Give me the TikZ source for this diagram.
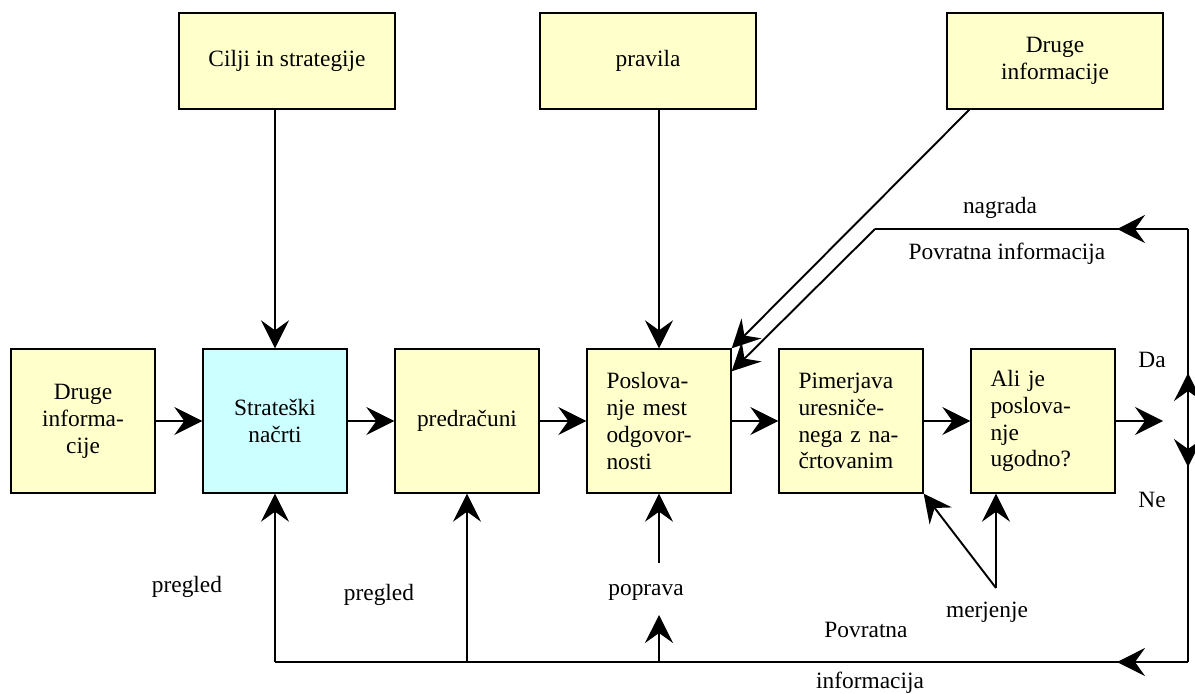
\documentclass[tikz,border=0pt]{standalone}
\usepackage{fontspec}
\setmainfont{Liberation Serif}
\usetikzlibrary{arrows.meta}
\definecolor{boxyellow}{RGB}{255,255,204}
\definecolor{boxcyan}{RGB}{204,255,255}
\tikzset{
	arr/.style={-{Stealth[length=5.6mm, width=5.6mm, inset=2mm]}},
	box/.style={draw, thick, fill=boxyellow, minimum width=2.88cm, minimum height=2.88cm, align=center},
	leftbox/.style={box, text width=2.1cm, align=left, inner xsep=0pt},
	topbox/.style={draw, thick, fill=boxyellow, minimum width=4.32cm, minimum height=1.92cm, align=center},
	lbl/.style={inner sep=0pt}
}
\begin{document}
\begin{tikzpicture}[x=0.02cm, y=-0.02cm, line width=1.1pt, font=\fontsize{13.3}{15.3}\selectfont]
	\useasboundingbox (0, 0) rectangle (1195, 693);
	% top row
	\node[topbox] (cilji) at (287, 61) {Cilji in strategije};
	\node[topbox] (pravila) at (648, 61) {pravila};
	\node[topbox] (drugetop) at (1055, 61) {Druge\\informacije};
	% main row
	\node[box] (druge) at (83, 421) {Druge\\informa-\\cije};
	\node[box, fill=boxcyan] (strat) at (275, 421) {Strateški\\načrti};
	\node[box] (pred) at (467, 421) {predračuni};
	\node[leftbox] (posl) at (659, 421) {Poslova-\\nje mest\\odgovor-\\nosti};
	\node[leftbox] (pim) at (851, 421) {Pimerjava\\uresniče-\\nega z na-\\črtovanim};
	\node[leftbox] (ali) at (1043, 421) {Ali je\\poslova-\\nje\\ugodno?};
	\foreach \a/\b in {druge/strat, strat/pred, pred/posl, posl/pim, pim/ali}
		\draw[arr] (\a) -- (\b);
	% inputs from above
	\draw[arr] (strat.north |- cilji.south) -- (strat.north);
	\draw[arr] (posl.north |- pravila.south) -- (posl.north);
	\draw[arr] ([xshift=0.46cm]drugetop.south west) -- (posl.north east);
	% decision and feedback loop
	\coordinate (split) at (1163, 421);
	\coordinate (mid) at (1188, 421);
	\coordinate (ne) at (1188, 229);
	\coordinate (se) at (1188, 662);
	\coordinate (bend) at (875, 229);
	\draw[arr] (ali) -- (split);
	\draw (mid) -- (ne);
	\draw (mid) -- (se);
	\draw[arr] (mid) -- (1188, 373);
	\draw[arr] (mid) -- (1188, 467);
	\draw (ne) -- (bend);
	\draw[arr] (ne) -- (1117, 229);
	\draw[arr] (bend) -- ([yshift=-0.46cm]posl.north east);
	\draw (se) -- (strat.south |- se);
	\draw[arr] (se) -- (1117, 662);
	\draw[arr] (strat.south |- se) -- (strat.south);
	\draw[arr] (pred.south |- se) -- (pred.south);
	\draw[arr] (posl.south |- se) -- (659, 615);
	\draw[arr] (659, 563) -- (posl.south);
	% measuring
	\coordinate (meas) at (996, 588);
	\draw[arr] (meas) -- (meas |- ali.south);
	\draw[arr] (meas) -- (pim.south east);
	% labels
	\node[lbl] (nagrada) at (1000, 208) {nagrada};
	\node[lbl] (povinf) at (1007, 254) {Povratna informacija};
	\node[lbl] (da) at (1152, 360) {Da};
	\node[lbl] (ne) at (1152, 500) {Ne};
	\node[lbl] (merjenje) at (987, 612) {merjenje};
	\node[lbl] (pregleda) at (187, 587) {pregled};
	\node[lbl] (pregledb) at (379, 595) {pregled};
	\node[lbl] (poprava) at (646, 592) {poprava};
	\node[lbl] (povratna) at (866, 630) {Povratna};
	\node[lbl] (informacija) at (870, 683) {informacija};
\end{tikzpicture}
\end{document}
